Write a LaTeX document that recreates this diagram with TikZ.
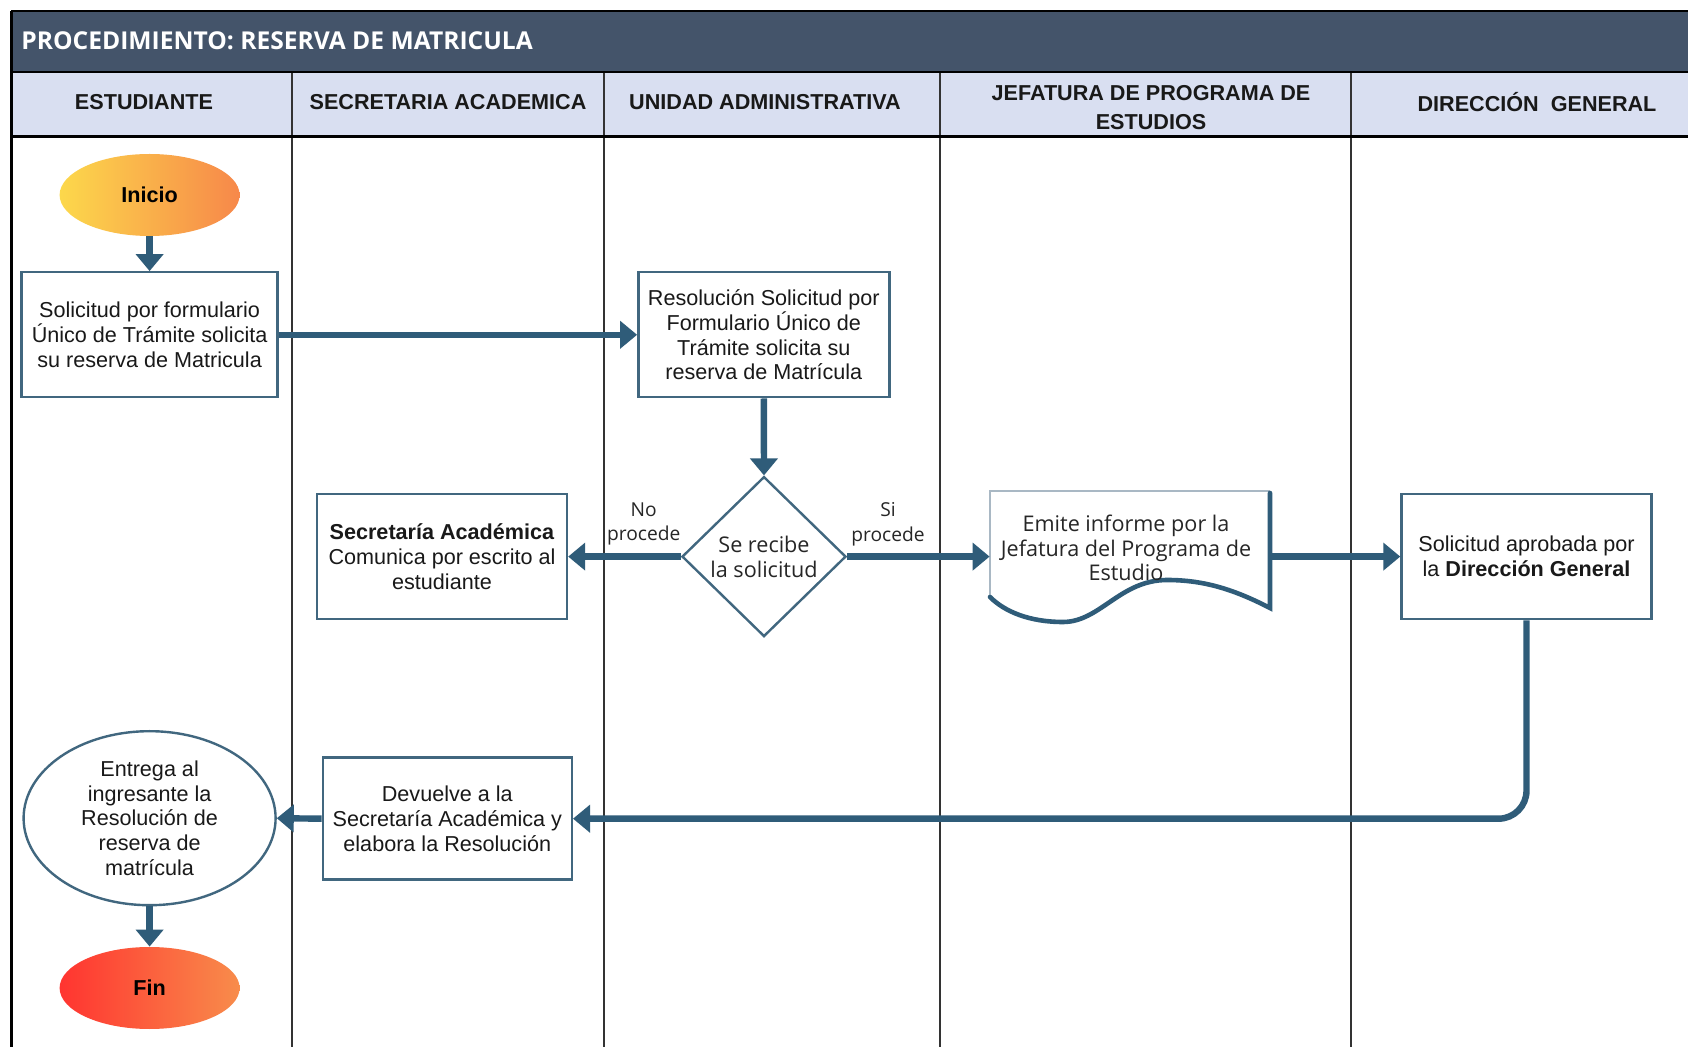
\documentclass[tikz,border=0pt]{standalone}
\usepackage{fontspec}
\setmainfont{Liberation Sans}
\newfontfamily\opensans{Open Sans}
\usetikzlibrary{arrows.meta,shapes.geometric,calc}

\definecolor{titlebg}{HTML}{44546A}
\definecolor{headbg}{HTML}{D9DFF1}
\definecolor{connclr}{HTML}{2F5C79}
\definecolor{boxedge}{HTML}{41677F}
\definecolor{docthin}{HTML}{A9B8C4}
\definecolor{startL}{HTML}{FCD84B}
\definecolor{startR}{HTML}{F7884A}
\definecolor{endL}{HTML}{FF3430}
\definecolor{endR}{HTML}{F88C4B}

\begin{document}
\begin{tikzpicture}[x=0.5pt,y=-0.5pt,
  txt/.style={font=\fontsize{10.8}{12.4}\selectfont, align=center, text=black!90},
  optxt/.style={font=\opensans\fontsize{10.8}{12.4}\selectfont, align=center, text=black!85},
  lbltxt/.style={font=\opensans\fontsize{9.6}{12.4}\selectfont, align=center, text=black!85},
  hdr/.style={font=\bfseries\fontsize{10.8}{14.5}\selectfont, align=center, text=black!90},
  titletxt/.style={font=\opensans\bfseries\fontsize{12.3}{14}\selectfont, text=white, inner sep=0pt},
  box/.style={txt, draw=boxedge, line width=1.2pt, fill=white, inner sep=0pt,
    minimum width=125pt, minimum height=62.5pt},
  terminal/.style={ellipse, inner sep=0pt, minimum width=90pt, minimum height=41pt,
    font=\bfseries\fontsize{10.8}{13}\selectfont},
  decision/.style={diamond, draw=boxedge, line width=1.2pt, fill=white, inner sep=0pt,
    minimum width=82pt, minimum height=80pt, font=\opensans\fontsize{10.8}{12.4}\selectfont,
    align=center, text=black!85},
  link/.style={draw=connclr, line width=3.2pt, -{Triangle[width=13.5pt,length=8.5pt]}},
  lane/.style={draw=black!80, line width=0.8pt}
]
\useasboundingbox (0,0) rectangle (1688,1047);
\clip (0,0) rectangle (1688,1047);
\fill[white] (0,0) rectangle (1688,1047);

% title bar and lane header row
\fill[titlebg] (11,11) rectangle (1700,72);
\fill[headbg] (11,72) rectangle (1700,137);
\foreach \x in {292,604,940,1351} \draw[lane] (\x,72) -- (\x,1047);
\draw[black, line width=1.2pt] (11,11) -- (1700,11);
\draw[black, line width=1.3pt] (11,72) -- (1700,72);
\draw[black, line width=1.5pt] (11,137) -- (1700,137);
\draw[black, line width=1.5pt] (11,11) -- (11,1047);

\node[titletxt, anchor=west] (title) at (21,41) {PROCEDIMIENTO: RESERVA DE MATRICULA};
\node[hdr] (h1) at (144,102) {ESTUDIANTE};
\node[hdr] (h2) at (448,102) {SECRETARIA ACADEMICA};
\node[hdr] (h3) at (765,102) {UNIDAD ADMINISTRATIVA};
\node[hdr] (h4) at (1151,108) {JEFATURA DE PROGRAMA DE\\ESTUDIOS};
\node[hdr] (h5) at (1537,102) {DIRECCIÓN~~GENERAL};

% flow nodes
\node[terminal, left color=startL, right color=startR] (inicio) at (149.6,195) {Inicio};
\node[box, minimum width=128pt] (b1) at (149.6,334.8)
  {Solicitud por formulario\\Único de Trámite solicita\\su reserva de Matricula};
\node[box, minimum width=125.5pt] (b2) at (763.8,334.8)
  {Resolución Solicitud por\\Formulario Único de\\Trámite solicita su\\reserva de Matrícula};
\node[decision] (dec) at (764,556.6) {Se recibe\\la solicitud};
\node[box] (b3) at (442,556.6)
  {\textbf{Secretaría Académica}\\Comunica por escrito al\\estudiante};
\node[box] (b4) at (1526.5,556.6)
  {Solicitud aprobada por\\la \textbf{Dirección General}};
\node[box, minimum width=124.5pt, minimum height=61pt] (b5) at (447.3,818.7)
  {Devuelve a la\\Secretaría Académica y\\elabora la Resolución};
\node[ellipse, draw=boxedge, line width=1.2pt, fill=white, inner sep=0pt,
  minimum width=126pt, minimum height=87pt, txt] (ent) at (149.6,818.2)
  {Entrega al\\ingresante la\\Resolución de\\reserva de\\matrícula};
\node[terminal, left color=endL, right color=endR] (fin) at (149.6,988) {Fin};

% document shape (report)
\node[inner sep=0pt, minimum width=140pt, minimum height=58.5pt] (doc) at (1130,550) {};
\fill[white] (990,491) -- (1270,491) -- (1270,608)
  .. controls (1235,590) and (1205,580) .. (1167,580)
  .. controls (1120,580) and (1100,622) .. (1063,622)
  .. controls (1030,622) and (1005,612) .. (990,597) -- cycle;
\draw[docthin, line width=0.6pt] (1270,491) -- (990,491) -- (990,597);
\draw[connclr, line width=2.3pt, line cap=round] (1270,493) -- (1270,608)
  .. controls (1235,590) and (1205,580) .. (1167,580)
  .. controls (1120,580) and (1100,622) .. (1063,622)
  .. controls (1030,622) and (1005,612) .. (990,597);
\node[optxt] (doctxt) at (1126,548) {Emite informe por la\\Jefatura del Programa de\\Estudio};

% decision labels
\node[lbltxt] (no) at (643.7,524) {No\\procede};
\node[lbltxt] (si) at (888,524) {Si\\procede};

% connectors
\draw[link] (inicio.south) -- (b1.north);
\draw[link] (b1.east) -- (b2.west);
\draw[link] (b2.south) -- (dec.north);
\draw[link] (dec.west) -- (b3.east);
\draw[link] (dec.east) -- (dec.east -| doc.west);
\draw[link] (b4.west -| doc.east) -- (b4.west);
\draw[link, rounded corners=14pt] (b4.south) |- (b5.east);
\draw[link] (b5.west) -- (ent.east);
\draw[link] (ent.south) -- (fin.north);
\end{tikzpicture}
\end{document}
